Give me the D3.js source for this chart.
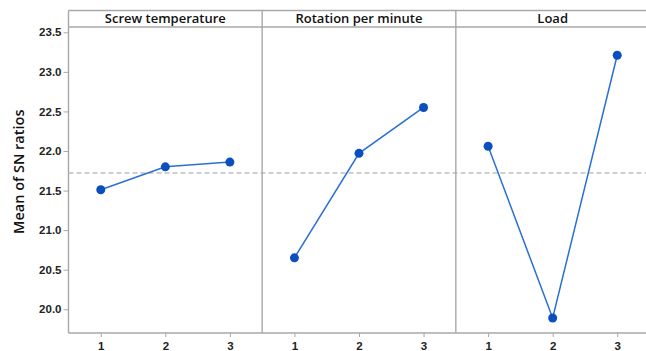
<!DOCTYPE html>
<html>
<head>
<meta charset="utf-8">
<script src="https://cdn.jsdelivr.net/npm/d3@7"></script>
<style>
  html, body { margin: 0; padding: 0; background: #fff; }
  svg { display: block; font-family: "Open Sans", "Noto Sans", sans-serif; }
</style>
</head>
<body>
<svg id="chart" width="646" height="351"></svg>
<script>
// Main effects plot for SN ratios (larger is better)
const factors = ["Screw temperature", "Rotation per minute", "Load"];
const levels = [1, 2, 3];
const screwTemperature = [21.51, 21.80, 21.86];
const rotationPerMinute = [20.65, 21.97, 22.55];
const load = [22.06, 19.89, 23.21];
const yTicks = [20.0, 20.5, 21.0, 21.5, 22.0, 22.5, 23.0, 23.5];

const series = [screwTemperature, rotationPerMinute, load];
const grandMean = d3.mean(series.flat());

const svg = d3.select("#chart");
const frameLeft = 68.5, frameRight = 649.5, headTop = 10.5, plotTop = 27, plotBottom = 333;
const panelW = (frameRight - frameLeft) / factors.length;
const frameColor = "#a8a8a8";

const y = d3.scaleLinear().domain([19.70, 23.567]).range([plotBottom, plotTop]);

// y axis
const yAxis = svg.append("g")
  .attr("transform", `translate(${frameLeft},0)`)
  .call(d3.axisLeft(y).tickValues(yTicks).tickFormat(d3.format(".1f")).tickSize(5).tickSizeOuter(0));
yAxis.select(".domain").remove();
yAxis.selectAll(".tick line").attr("stroke", frameColor).attr("stroke-width", 1);
yAxis.selectAll(".tick text")
  .attr("x", -7).attr("fill", "#222").style("font-size", "11.5px").style("font-weight", 600);

// y axis title
svg.append("text")
  .attr("transform", `translate(24,${(headTop + plotBottom) / 2}) rotate(-90)`)
  .attr("text-anchor", "middle")
  .attr("fill", "#111")
  .style("font-size", "14.5px")
  .style("font-weight", 600)
  .text("Mean of SN ratios");

// grand mean reference line
svg.append("line")
  .attr("x1", frameLeft).attr("x2", frameRight)
  .attr("y1", y(grandMean)).attr("y2", y(grandMean))
  .attr("stroke", "#a0a0a0").attr("stroke-width", 1.2)
  .attr("stroke-dasharray", "5,3");

const line = d3.line();

factors.forEach((name, i) => {
  const x0 = frameLeft + i * panelW;
  const x = d3.scaleLinear().domain([0.5, 3.5]).range([x0, x0 + panelW]);
  const g = svg.append("g");

  // x axis for the panel
  const xa = g.append("g")
    .attr("transform", `translate(0,${plotBottom})`)
    .call(d3.axisBottom(x).tickValues(levels).tickFormat(d3.format("d")).tickSize(4).tickSizeOuter(0));
  xa.select(".domain").remove();
  xa.selectAll(".tick line").attr("stroke", frameColor);
  xa.selectAll(".tick text")
    .attr("y", 9).attr("fill", "#222").style("font-size", "11.5px").style("font-weight", 600);

  // header label
  g.append("text")
    .attr("x", x0 + panelW / 2).attr("y", headTop + 12.5)
    .attr("text-anchor", "middle")
    .attr("fill", "#111")
    .style("font-size", "13px")
    .style("font-weight", 600)
    .text(name);

  const pts = levels.map((lv, j) => [x(lv), y(series[i][j])]);
  g.append("path")
    .attr("d", line(pts))
    .attr("fill", "none")
    .attr("stroke", "#2a6fd4")
    .attr("stroke-width", 1.5);
  g.selectAll("circle").data(pts).join("circle")
    .attr("cx", d => d[0]).attr("cy", d => d[1])
    .attr("r", 4.5)
    .attr("fill", "#0a4fbf");
});

// frame, header band and panel dividers
const frame = svg.append("g").attr("stroke", frameColor).attr("stroke-width", 1.4).attr("fill", "none");
frame.append("line").attr("x1", frameLeft).attr("x2", frameRight).attr("y1", headTop).attr("y2", headTop);
frame.append("line").attr("x1", frameLeft).attr("x2", frameRight).attr("y1", plotTop).attr("y2", plotTop);
frame.append("line").attr("x1", frameLeft).attr("x2", frameRight).attr("y1", plotBottom).attr("y2", plotBottom);
d3.range(factors.length + 1).forEach(k => {
  const xx = frameLeft + k * panelW;
  frame.append("line").attr("x1", xx).attr("x2", xx).attr("y1", headTop).attr("y2", plotBottom);
});
</script>
</body>
</html>
